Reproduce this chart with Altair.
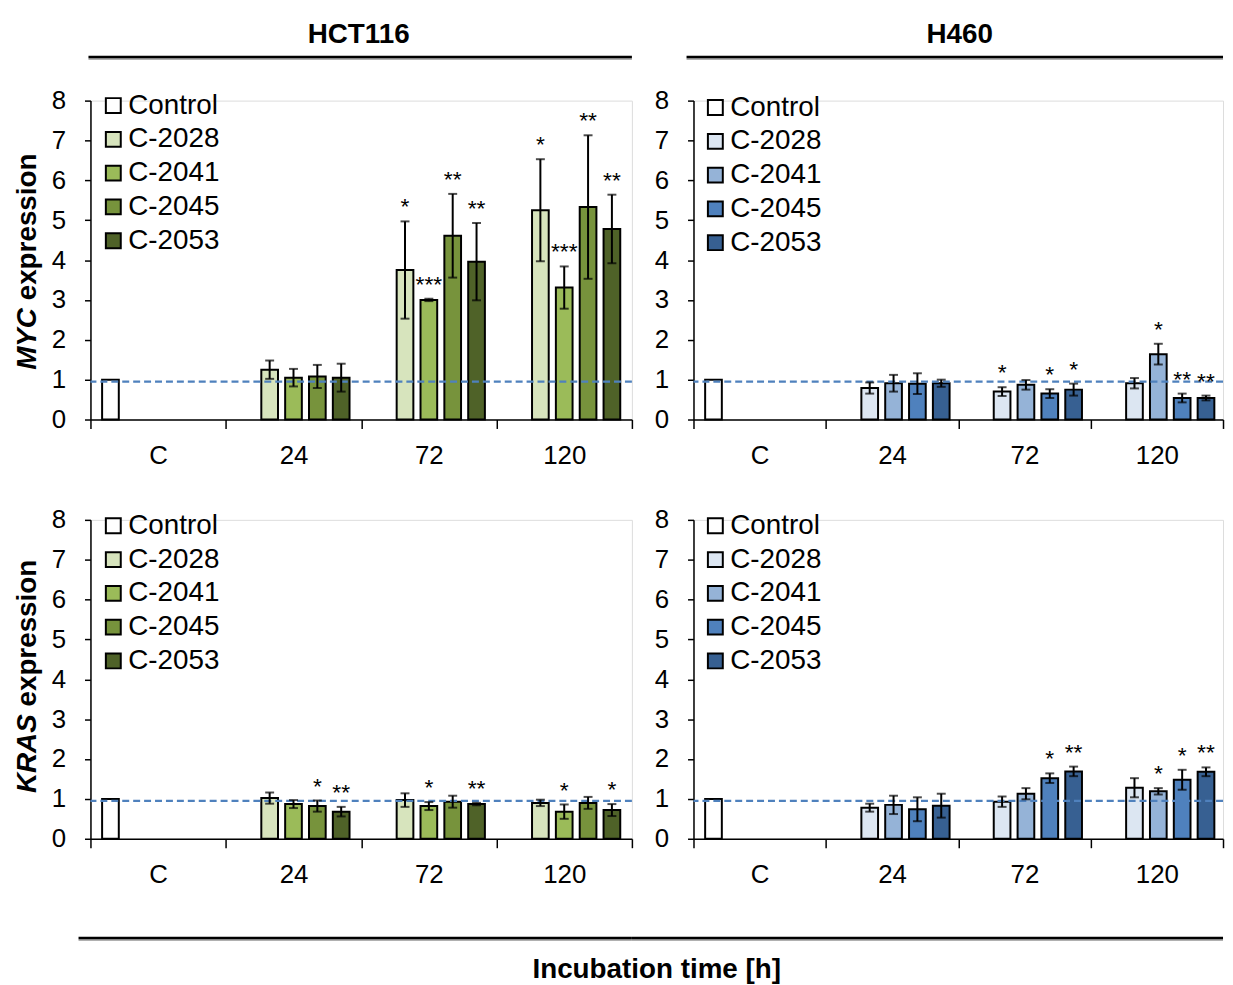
import altair as alt
import pandas as pd

FONT = "Liberation Sans"

times = ["C", "24", "72", "120"]
series = ["Control", "C-2028", "C-2041", "C-2045", "C-2053"]
treatments = ["C-2028", "C-2041", "C-2045", "C-2053"]
treat_times = ["24", "72", "120"]

green = ["#ffffff", "#d7e4bd", "#9bbb59", "#77933c", "#4f6228"]
blue = ["#ffffff", "#dce6f2", "#95b3d7", "#4f81bd", "#376092"]

control_value = 1.0
reference_level = [0.95]

# rows: 24 h, 72 h, 120 h ; columns: C-2028, C-2041, C-2045, C-2053
hct_myc_mean = [[1.25, 1.05, 1.08, 1.05], [3.75, 3.00, 4.61, 3.96], [5.25, 3.31, 5.33, 4.78]]
hct_myc_err = [[0.23, 0.22, 0.29, 0.35], [1.22, 0.03, 1.05, 0.97], [1.28, 0.53, 1.80, 0.86]]
hct_myc_sig = [["", "", "", ""], ["*", "***", "**", "**"], ["*", "***", "**", "**"]]

h460_myc_mean = [[0.79, 0.91, 0.90, 0.91], [0.70, 0.87, 0.65, 0.75], [0.91, 1.64, 0.54, 0.54]]
h460_myc_err = [[0.14, 0.21, 0.26, 0.09], [0.11, 0.12, 0.11, 0.15], [0.13, 0.26, 0.11, 0.06]]
h460_myc_sig = [["", "", "", ""], ["*", "", "*", "*"], ["", "*", "**", "**"]]

hct_kras_mean = [[1.02, 0.87, 0.82, 0.68], [0.97, 0.82, 0.93, 0.87], [0.90, 0.68, 0.90, 0.72]]
hct_kras_err = [[0.14, 0.10, 0.14, 0.12], [0.17, 0.10, 0.15, 0.03], [0.08, 0.18, 0.15, 0.15]]
hct_kras_sig = [["", "", "*", "**"], ["", "*", "", "**"], ["", "*", "", "*"]]

h460_kras_mean = [[0.78, 0.85, 0.74, 0.83], [0.93, 1.13, 1.52, 1.69], [1.28, 1.19, 1.48, 1.68]]
h460_kras_err = [[0.10, 0.23, 0.30, 0.30], [0.13, 0.14, 0.12, 0.12], [0.24, 0.08, 0.25, 0.11]]
h460_kras_sig = [["", "", "", ""], ["", "", "*", "**"], ["", "*", "*", "**"]]


def make_df(mean, err, sig):
    rows = [dict(time="C", series="Control", value=control_value, lo=None, hi=None, sig="")]
    for i, t in enumerate(treat_times):
        for j, s in enumerate(treatments):
            m, e = mean[i][j], err[i][j]
            rows.append(dict(time=t, series=s, value=m, lo=m - e, hi=m + e, sig=sig[i][j]))
    return pd.DataFrame(rows)


def panel(df, colors, width, gene, legend_xy, header=None, footer=None):
    height = 321
    step = width / len(times)
    outer = (step / 24.0 - len(series) + 0.3) / 2.0
    x = alt.X("time:N", sort=times,
              scale=alt.Scale(domain=times, paddingInner=0, paddingOuter=0),
              axis=alt.Axis(title=None, labelAngle=0, tickBand="extent", tickSize=9,
                            labelPadding=14, labelFontSize=26, labelFont=FONT,
                            labelColor="black", domainColor="black", tickColor="black",
                            domainWidth=1.5, tickWidth=1.5))
    xo = alt.XOffset("series:N", scale=alt.Scale(domain=series, paddingInner=0.3, paddingOuter=outer))
    yscale = alt.Scale(domain=[0, 8], nice=False, zero=True)
    y = alt.Y("value:Q", scale=yscale,
              axis=alt.Axis(title=None, values=list(range(9)), tickSize=6, labelPadding=19,
                            labelFontSize=26, labelFont=FONT, labelColor="black",
                            domainColor="black", tickColor="black", domainWidth=1.5,
                            tickWidth=1.5, grid=False))
    base = alt.Chart(df)
    bars = base.mark_bar(stroke="black", strokeWidth=2).encode(
        x=x, xOffset=xo, y=y,
        color=alt.Color("series:N", scale=alt.Scale(domain=series, range=colors),
                        legend=alt.Legend(title=None, orient="none", legendX=legend_xy[0],
                                          legendY=legend_xy[1], symbolType="square",
                                          symbolSize=225, symbolStrokeColor="black",
                                          symbolStrokeWidth=2, symbolOpacity=1,
                                          labelFontSize=28, labelFont=FONT, labelColor="black",
                                          rowPadding=6, labelOffset=1, padding=0)))
    ref = alt.Chart(pd.DataFrame({"ref": reference_level})).mark_rule(
        color="#4f81bd", strokeWidth=2.2, strokeDash=[7, 4]).encode(y=alt.Y("ref:Q", scale=yscale))
    err = base.transform_filter("datum.lo != null")
    err_rule = err.mark_rule(color="black", strokeWidth=2).encode(
        x=x, xOffset=xo, y=alt.Y("lo:Q", scale=yscale), y2="hi:Q")
    cap_lo = err.mark_tick(color="black", thickness=2, size=9).encode(
        x=x, xOffset=xo, y=alt.Y("lo:Q", scale=yscale))
    cap_hi = err.mark_tick(color="black", thickness=2, size=9).encode(
        x=x, xOffset=xo, y=alt.Y("hi:Q", scale=yscale))
    stars = err.mark_text(fontSize=23, font=FONT, color="black", dy=-7, baseline="alphabetic").encode(
        x=x, xOffset=xo, y=alt.Y("hi:Q", scale=yscale), text="sig:N")

    layers = [bars, ref, err_rule, cap_lo, cap_hi, stars]

    one = pd.DataFrame({"k": [0]})
    if gene is not None:
        g_name, g_start, g_width = gene
        layers.append(alt.Chart(one).mark_text(
            angle=270, align="left", baseline="alphabetic", fontSize=28, font=FONT,
            fontWeight="bold", fontStyle="italic", color="black").encode(
            x=alt.value(-55), y=alt.value(g_start), text=alt.value(g_name)))
        layers.append(alt.Chart(one).mark_text(
            angle=270, align="left", baseline="alphabetic", fontSize=28, font=FONT,
            fontWeight="bold", color="black").encode(
            x=alt.value(-55), y=alt.value(g_start - g_width - 7.8), text=alt.value("expression")))
    if header is not None:
        h_text, h_x, h_x0 = header
        layers.append(alt.Chart(one).mark_text(
            align="center", baseline="alphabetic", fontSize=28, font=FONT, fontWeight="bold",
            color="black").encode(x=alt.value(h_x), y=alt.value(-58), text=alt.value(h_text)))
        layers.append(alt.Chart(one).mark_rule(color="#b0b0b0", strokeWidth=2).encode(
            x=alt.value(h_x0), x2=alt.value(width), y=alt.value(-42)))
        layers.append(alt.Chart(one).mark_rule(color="black", strokeWidth=2.5).encode(
            x=alt.value(h_x0), x2=alt.value(width), y=alt.value(-44)))
    if footer is not None:
        f_text, f_x, f_x0 = footer
        layers.append(alt.Chart(one).mark_rule(color="#b0b0b0", strokeWidth=2).encode(
            x=alt.value(f_x0), x2=alt.value(width), y=alt.value(423)))
        layers.append(alt.Chart(one).mark_rule(color="black", strokeWidth=2.5).encode(
            x=alt.value(f_x0), x2=alt.value(width), y=alt.value(421)))
        if f_text:
            layers.append(alt.Chart(one).mark_text(
                align="center", baseline="alphabetic", fontSize=28, font=FONT, fontWeight="bold",
                color="black").encode(x=alt.value(f_x), y=alt.value(461), text=alt.value(f_text)))

    return alt.layer(*layers).properties(width=width, height=height)


WL, WR = 545, 533

tl = panel(make_df(hct_myc_mean, hct_myc_err, hct_myc_sig), green, WL, ("MYC", 271, 62.2), (9, -9),
           header=("HCT116", 270, -2))
tr = panel(make_df(h460_myc_mean, h460_myc_err, h460_myc_sig), blue, WR, None, (8, -7),
           header=("H460", 268, -7))
bl = panel(make_df(hct_kras_mean, hct_kras_err, hct_kras_sig), green, WL, ("KRAS", 275, 79.3), (9, -8),
           footer=("Incubation time [h]", 570, -12))
br = panel(make_df(h460_kras_mean, h460_kras_err, h460_kras_sig), blue, WR, None, (8, -8),
           footer=("", 0, -62))

chart = alt.concat(tl, tr, bl, br, columns=2, spacing={"row": 101, "column": 62},
                   bounds="flush").resolve_scale(
    color="independent").resolve_legend(color="independent").properties(
    padding={"left": 5, "top": 9, "right": 0, "bottom": 0}, background="white"
).configure_view(stroke=None).configure(font=FONT)

chart.save("out.html", embed_options={"renderer": "svg", "actions": False})
